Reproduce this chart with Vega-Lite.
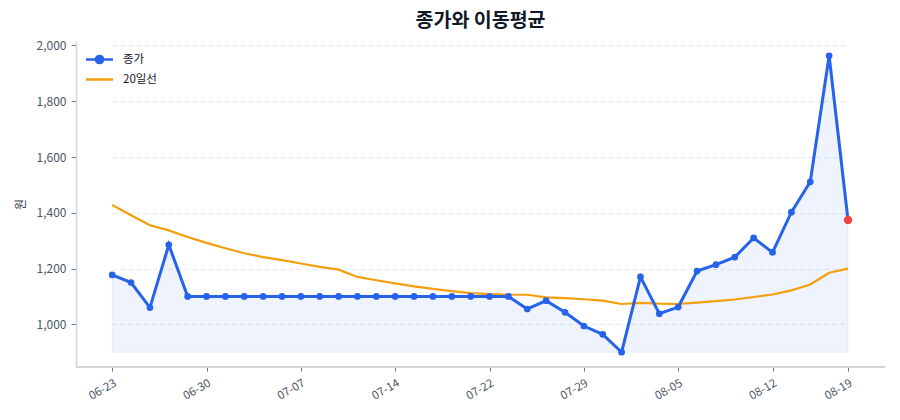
{
  "$schema": "https://vega.github.io/schema/vega-lite/v6.json",
  "width": 809,
  "height": 326,
  "autosize": "none",
  "padding": {"left": 76, "top": 41, "right": 15, "bottom": 53},
  "background": "white",
  "title": {
    "text": "종가와 이동평균",
    "font": "Noto Sans CJK KR",
    "fontSize": 19.5,
    "fontWeight": "bold",
    "color": "#111827",
    "offset": 8
  },
  "data": {
    "values": [
      {"date": "06-23", "close": 1177, "ma20": 1428},
      {"date": "06-24", "close": 1150, "ma20": 1391},
      {"date": "06-25", "close": 1060, "ma20": 1355},
      {"date": "06-26", "close": 1285, "ma20": 1337},
      {"date": "06-27", "close": 1100, "ma20": 1313},
      {"date": "06-30", "close": 1100, "ma20": 1292},
      {"date": "07-01", "close": 1100, "ma20": 1273},
      {"date": "07-02", "close": 1100, "ma20": 1255},
      {"date": "07-03", "close": 1100, "ma20": 1241},
      {"date": "07-04", "close": 1100, "ma20": 1230},
      {"date": "07-07", "close": 1100, "ma20": 1218},
      {"date": "07-08", "close": 1100, "ma20": 1206},
      {"date": "07-09", "close": 1100, "ma20": 1196},
      {"date": "07-10", "close": 1100, "ma20": 1170},
      {"date": "07-11", "close": 1100, "ma20": 1158},
      {"date": "07-14", "close": 1100, "ma20": 1147},
      {"date": "07-15", "close": 1100, "ma20": 1136},
      {"date": "07-16", "close": 1100, "ma20": 1127},
      {"date": "07-17", "close": 1100, "ma20": 1119},
      {"date": "07-18", "close": 1100, "ma20": 1112},
      {"date": "07-22", "close": 1100, "ma20": 1108},
      {"date": "07-23", "close": 1100, "ma20": 1106},
      {"date": "07-24", "close": 1055, "ma20": 1106},
      {"date": "07-25", "close": 1085, "ma20": 1097},
      {"date": "07-28", "close": 1043, "ma20": 1094},
      {"date": "07-29", "close": 994, "ma20": 1090},
      {"date": "07-30", "close": 964, "ma20": 1085},
      {"date": "07-31", "close": 900, "ma20": 1073},
      {"date": "08-01", "close": 1170, "ma20": 1077},
      {"date": "08-04", "close": 1038, "ma20": 1074},
      {"date": "08-05", "close": 1062, "ma20": 1073},
      {"date": "08-06", "close": 1191, "ma20": 1078},
      {"date": "08-07", "close": 1214, "ma20": 1083},
      {"date": "08-08", "close": 1241, "ma20": 1089},
      {"date": "08-11", "close": 1310, "ma20": 1098},
      {"date": "08-12", "close": 1258, "ma20": 1107},
      {"date": "08-13", "close": 1402, "ma20": 1122},
      {"date": "08-14", "close": 1511, "ma20": 1143},
      {"date": "08-18", "close": 1963, "ma20": 1185},
      {"date": "08-19", "close": 1374, "ma20": 1200, "last": true}
    ]
  },
  "encoding": {
    "x": {
      "field": "date",
      "type": "ordinal",
      "sort": null,
      "scale": {"type": "point", "padding": 0, "range": [36.2, 772]},
      "axis": {
        "title": null,
        "values": ["06-23", "06-30", "07-07", "07-14", "07-22", "07-29", "08-05", "08-12", "08-19"],
        "labelAngle": -30,
        "labelAlign": "right",
        "labelBaseline": "top",
        "labelFont": "Noto Sans CJK KR",
        "labelFontSize": 11.5,
        "labelColor": "#4b5563",
        "labelPadding": 6,
        "tickColor": "#6b7280",
        "tickSize": 4,
        "domain": false,
        "grid": false
      }
    }
  },
  "layer": [
    {
      "mark": {"type": "area", "color": "#2563eb", "fillOpacity": 0.08, "stroke": "#2563eb", "strokeOpacity": 0.08, "strokeWidth": 1},
      "encoding": {
        "y": {
          "field": "close",
          "type": "quantitative",
          "scale": {"domain": [847, 2016], "nice": false, "zero": false},
          "axis": {
            "title": "원",
            "titleFont": "Noto Sans CJK KR",
            "titleFontSize": 12,
            "titleFontWeight": "normal",
            "titleColor": "#374151",
            "titlePadding": 9,
            "values": [1000, 1200, 1400, 1600, 1800, 2000],
            "format": ",.0f",
            "labelFont": "Noto Sans CJK KR",
            "labelFontSize": 12,
            "labelColor": "#4b5563",
            "labelPadding": 5,
            "tickColor": "#6b7280",
            "tickSize": 5,
            "domainColor": "#d1d5db",
            "domainWidth": 1.5,
            "grid": true,
            "gridColor": "#e5e7eb",
            "gridDash": [4, 4],
            "gridWidth": 1
          }
        },
        "y2": {"datum": 900}
      }
    },
    {
      "mark": {"type": "rule", "color": "#d1d5db", "strokeWidth": 1.5},
      "encoding": {
        "x": {"value": 0},
        "x2": {"value": 809},
        "y": {"datum": 847}
      }
    },
    {
      "mark": {"type": "line", "strokeWidth": 2.2},
      "encoding": {
        "y": {"field": "ma20", "type": "quantitative"},
        "color": {"datum": "20일선"}
      }
    },
    {
      "mark": {"type": "line", "strokeWidth": 3, "point": {"filled": true, "size": 45}},
      "encoding": {
        "y": {"field": "close", "type": "quantitative"},
        "color": {
          "datum": "종가",
          "scale": {"domain": ["종가", "20일선"], "range": ["#2563eb", "#f59e0b"]},
          "legend": {
            "title": null,
            "orient": "none",
            "legendX": 13,
            "legendY": 8,
            "symbolType": "stroke",
            "symbolSize": 324,
            "symbolStrokeWidth": 2.5,
            "labelFont": "Noto Sans CJK KR",
            "labelFontSize": 11.5,
            "labelColor": "#111827",
            "labelOffset": 13,
            "rowPadding": 0,
            "encode": {
              "symbols": {
                "update": {
                  "shape": {"signal": "datum.value == '종가' ? 'M-1.5,0H1.5M0.4,0A0.4,0.4,0,1,1,-0.4,0A0.4,0.4,0,1,1,0.4,0Z' : 'M-1.5,0H1.5'"},
                  "fill": {"signal": "datum.value == '종가' ? '#2563eb' : 'transparent'"}
                }
              }
            }
          }
        }
      }
    },
    {
      "transform": [{"filter": "datum.last"}],
      "mark": {"type": "point", "filled": true, "color": "#ef4444", "opacity": 1, "size": 70},
      "encoding": {
        "y": {"field": "close", "type": "quantitative"}
      }
    }
  ],
  "config": {
    "view": {"stroke": null}
  }
}
